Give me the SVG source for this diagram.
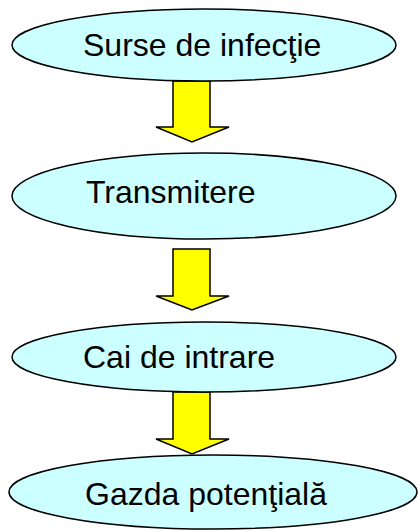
<svg xmlns="http://www.w3.org/2000/svg" width="419" height="530" viewBox="0 0 419 530">
<style>
.n{fill:#CCFFFF;stroke:#000;stroke-width:1.5}
.a{fill:#FFFF00;stroke:#000;stroke-width:1.5;stroke-linejoin:miter}
.t{font-family:"Liberation Sans",Arial,sans-serif;font-size:32px;fill:#000}
</style>
<rect width="419" height="530" fill="#fff"/>
<g id="connectors">
<path class="a" d="M173,81 H210 V127 H229 L192,142 L156,127 H173 Z"/>
<path class="a" d="M173,249 H210 V296 H229 L192,310 L156,296 H173 Z"/>
<path class="a" d="M173,392 H210 V439 H229 L192,454 L156,439 H173 Z"/>
</g>
<g id="n1"><ellipse class="n" cx="204" cy="45" rx="192" ry="36"/><text class="t" x="83" y="56">Surse de infecţie</text></g>
<g id="n2"><ellipse class="n" cx="204" cy="196" rx="192" ry="43"/><text class="t" x="86" y="203">Transmitere</text></g>
<g id="n3"><ellipse class="n" cx="204" cy="357" rx="192" ry="35"/><text class="t" x="83" y="368">Cai de intrare</text></g>
<g id="n4"><ellipse class="n" cx="213" cy="492" rx="204" ry="37"/><text class="t" x="85" y="505">Gazda potenţială</text></g>
</svg>
